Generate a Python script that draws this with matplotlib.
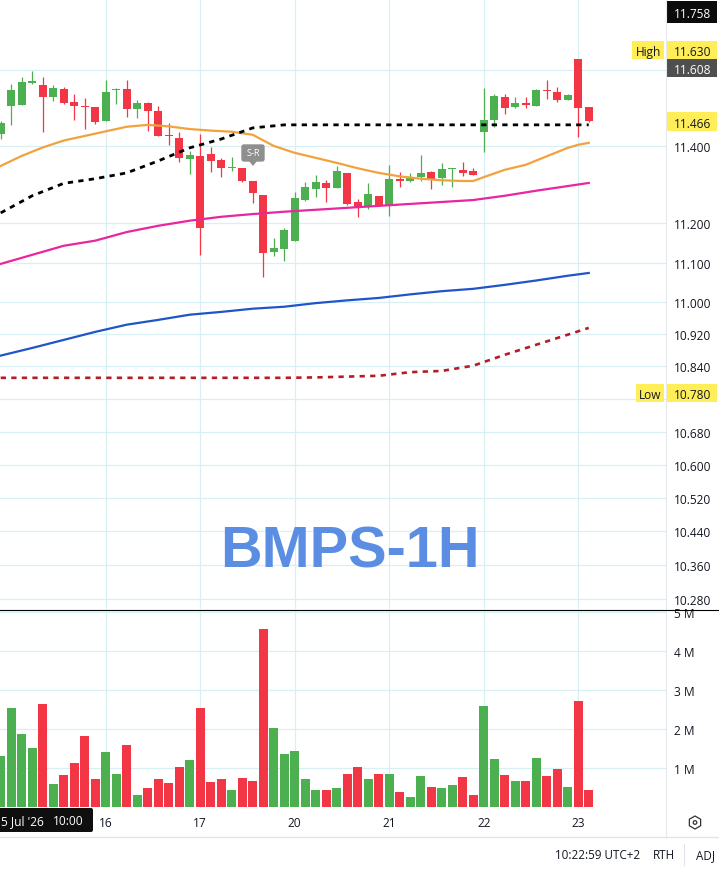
import numpy as np
from matplotlib import pyplot as plt
from matplotlib.patches import Rectangle, FancyBboxPatch, RegularPolygon, Circle, Polygon

plt.rcParams['font.family'] = ['Open Sans', 'DejaVu Sans']

# hourly bars, 9 a day
opens = [11.431, 11.505, 11.508, 11.565, 11.561, 11.528, 11.549, 11.514, 11.505, 11.502,
         11.465, 11.546, 11.549, 11.496, 11.512, 11.492, 11.429, 11.420, 11.366, 11.375,
         11.378, 11.364, 11.342, 11.343, 11.310, 11.273, 11.126, 11.135, 11.154, 11.261,
         11.289, 11.303, 11.291, 11.331, 11.254, 11.243, 11.271, 11.246, 11.315, 11.310,
         11.319, 11.332, 11.317, 11.340, 11.338, 11.335, 11.437, 11.469, 11.528, 11.502,
         11.511, 11.505, 11.546, 11.542, 11.521, 11.629, 11.502]
highs = [11.466, 11.562, 11.582, 11.597, 11.580, 11.560, 11.554, 11.535, 11.525, 11.502,
         11.572, 11.551, 11.572, 11.521, 11.514, 11.504, 11.459, 11.436, 11.388, 11.431,
         11.397, 11.368, 11.371, 11.343, 11.310, 11.273, 11.162, 11.188, 11.280, 11.306,
         11.325, 11.312, 11.349, 11.331, 11.262, 11.303, 11.271, 11.351, 11.332, 11.329,
         11.377, 11.336, 11.355, 11.343, 11.359, 11.342, 11.552, 11.536, 11.536, 11.527,
         11.527, 11.549, 11.573, 11.554, 11.535, 11.629, 11.502]
lows = [11.418, 11.455, 11.508, 11.563, 11.436, 11.518, 11.510, 11.468, 11.444, 11.458,
        11.465, 11.510, 11.476, 11.472, 11.440, 11.425, 11.403, 11.359, 11.327, 11.120,
        11.332, 11.320, 11.334, 11.306, 11.253, 11.065, 11.117, 11.104, 11.154, 11.258,
        11.267, 11.255, 11.291, 11.248, 11.216, 11.237, 11.247, 11.218, 11.294, 11.306,
        11.310, 11.288, 11.299, 11.294, 11.323, 11.325, 11.385, 11.450, 11.484, 11.498,
        11.498, 11.505, 11.523, 11.516, 11.519, 11.423, 11.463]
closes = [11.460, 11.547, 11.568, 11.569, 11.528, 11.552, 11.511, 11.505, 11.503, 11.463,
          11.541, 11.549, 11.496, 11.512, 11.491, 11.425, 11.426, 11.369, 11.377, 11.188,
          11.361, 11.343, 11.345, 11.310, 11.278, 11.124, 11.137, 11.183, 11.264, 11.294,
          11.306, 11.291, 11.336, 11.250, 11.240, 11.276, 11.247, 11.315, 11.308, 11.320,
          11.329, 11.313, 11.340, 11.343, 11.330, 11.325, 11.469, 11.531, 11.500, 11.512,
          11.507, 11.547, 11.543, 11.521, 11.534, 11.498, 11.466]
# volume in millions
volume = [1.32, 2.54, 1.89, 1.52, 2.65, 0.60, 0.83, 1.15, 1.82, 0.72,
          1.43, 0.87, 1.59, 0.32, 0.49, 0.72, 0.62, 1.04, 1.22, 2.54,
          0.65, 0.72, 0.44, 0.76, 0.67, 4.57, 2.03, 1.38, 1.45, 0.72,
          0.44, 0.44, 0.51, 0.85, 1.04, 0.72, 0.85, 0.85, 0.39, 0.26,
          0.81, 0.53, 0.51, 0.58, 0.79, 0.32, 2.61, 1.25, 0.83, 0.69,
          0.69, 1.27, 0.81, 0.99, 0.53, 2.74, 0.46]

orange_idx = [0, 2, 4, 6, 8, 10, 12, 14, 16, 18, 20, 22, 24, 26, 28, 30, 32, 34, 36, 38,
              40, 42, 44, 45, 46, 48, 50, 52, 54, 55, 56]
ma_orange = [11.348, 11.374, 11.396, 11.414, 11.426, 11.438, 11.450, 11.455, 11.451, 11.444,
             11.440, 11.437, 11.429, 11.400, 11.382, 11.369, 11.356, 11.342, 11.330, 11.321,
             11.315, 11.311, 11.309, 11.309, 11.319, 11.338, 11.351, 11.373, 11.395, 11.403, 11.408]
line_idx = [0, 3, 6, 9, 12, 15, 18, 21, 24, 27, 30, 33, 36, 39, 42, 45, 48, 51, 54, 56]
ma_magenta = [11.097, 11.120, 11.143, 11.156, 11.178, 11.194, 11.207, 11.217, 11.224, 11.230,
              11.235, 11.240, 11.245, 11.250, 11.255, 11.260, 11.271, 11.284, 11.296, 11.304]
ma_blue = [10.867, 10.886, 10.906, 10.926, 10.944, 10.956, 10.969, 10.976, 10.984, 10.989,
           10.998, 11.005, 11.011, 11.020, 11.028, 11.034, 11.044, 11.055, 11.067, 11.074]
ma_black = [11.227, 11.271, 11.303, 11.315, 11.330, 11.361, 11.395, 11.418, 11.447, 11.455,
            11.455, 11.455, 11.455, 11.455, 11.455, 11.455, 11.455, 11.455, 11.455, 11.455]
ma_red = [10.812, 10.812, 10.812, 10.812, 10.812, 10.812, 10.812, 10.812, 10.812, 10.812,
          10.813, 10.815, 10.817, 10.826, 10.829, 10.842, 10.869, 10.894, 10.919, 10.936]

price_ticks = [11.6, 11.4, 11.2, 11.1, 11.0, 10.92, 10.84, 10.76, 10.68, 10.6, 10.52, 10.44, 10.36, 10.28]
price_labels = ['', '11.400', '11.200', '11.100', '11.000', '10.920', '10.840', '', '10.680',
                '10.600', '10.520', '10.440', '10.360', '10.280']
vol_ticks = [1, 2, 3, 4, 5]
vol_labels = ['1 M', '2 M', '3 M', '4 M', '5 M']
day_idx = [10, 19, 28, 37, 46, 55]
day_labels = ['16', '17', '20', '21', '22', '23']

GREEN = '#4caf50'
RED = '#f23645'
GRID = '#d8f0f3'
TXT = '#131722'
W, H = 719, 870

fig = plt.figure(figsize=(W / 100, H / 100), dpi=100)
ax = fig.add_axes([0, 1 - 610 / H, 665.5 / W, 610 / H])
vax = fig.add_axes([0, 1 - 809 / H, 665.5 / W, 198 / H])

idx = np.arange(len(opens))
o, h, l, c = map(np.array, (opens, highs, lows, closes))
colors = [GREEN if up else RED for up in c >= o]

ax.vlines(idx, l, h, colors=colors, lw=0.9, zorder=3)
ax.bar(idx, np.maximum(np.abs(c - o), 0.001), bottom=np.minimum(o, c), width=0.76, color=colors, zorder=4)
ax.plot(orange_idx, ma_orange, color='#f2a23c', lw=1.6, zorder=5)
ax.plot(line_idx, ma_magenta, color='#e925a0', lw=1.6, zorder=5)
ax.plot(line_idx, ma_blue, color='#1f55c9', lw=1.6, zorder=5)
ax.plot(line_idx, ma_black, color='black', lw=2.0, ls=(0, (1.9, 1.9)), zorder=5)
ax.plot(line_idx, ma_red, color='#b71c24', lw=1.9, ls=(0, (2, 2)), zorder=5)

ax.set_yscale('log')
ax.set_ylim(10.256, 11.789)
ax.set_xlim(-0.067, 63.31)
ax.yaxis.set_minor_locator(plt.NullLocator())
ax.yaxis.set_minor_formatter(plt.NullFormatter())
ax.yaxis.tick_right()
ax.set_yticks(price_ticks)
ax.set_yticklabels(price_labels)
ax.set_xticks(day_idx)
ax.set_xticklabels([])

vax.bar(idx, volume, width=0.86, color=colors, zorder=3)
vax.set_xlim(-0.067, 63.31)
vax.set_ylim(-0.013, 5.06)
vax.yaxis.tick_right()
vax.set_yticks(vol_ticks)
vax.set_yticklabels(vol_labels)
vax.set_xticks(day_idx)
vax.set_xticklabels(day_labels)

for a in (ax, vax):
    a.grid(True, color=GRID, lw=0.9, zorder=0)
    a.set_axisbelow(True)
    a.tick_params(length=0, labelsize=8.6, labelcolor=TXT, pad=6)
    for s in a.spines.values():
        s.set_visible(False)
vax.tick_params(axis='x', pad=6)

# screen furniture in pixel coordinates
ov = fig.add_axes([0, 0, 1, 1], zorder=10)
ov.set_xlim(0, W)
ov.set_ylim(H, 0)
ov.axis('off')
ov.patch.set_alpha(0)


def tag(x0, x1, y0, y1, fill, text, color, tx=None, ha='right', size=8.6):
    ov.add_patch(Rectangle((x0, y0), x1 - x0, y1 - y0, color=fill, lw=0))
    ov.text(711 if tx is None else tx, (y0 + y1) / 2, text, color=color, ha=ha, va='center_baseline', fontsize=size)


ov.plot([665.5, 665.5], [0, 838], color='#e6e9ee', lw=0.8)
ov.plot([0, W], [610.5, 610.5], color='black', lw=0.8)
ov.plot([0, W], [838, 838], color='#e0e3eb', lw=1)
ov.plot([684, 684], [845, 866], color='#e0e3eb', lw=0.8)

tag(666, 717, 2, 24, '#0b0b0b', '11.758', 'white')
tag(632, 664, 42, 60, '#ffee58', 'High', TXT, tx=661)
tag(666, 717, 42, 60, '#ffee58', '11.630', TXT)
tag(666, 717, 60, 78, '#4f4f4f', '11.608', 'white')
tag(666, 717, 113, 132, '#ffee58', '11.466', TXT)
tag(636, 664, 385, 403, '#ffee58', 'Low', TXT, tx=661)
tag(666, 717, 385, 403, '#ffee58', '10.780', TXT)

# S-R marker
ov.add_patch(FancyBboxPatch((242, 146), 22, 16, boxstyle='round,pad=0,rounding_size=2', color='#8f8f8f', lw=1))
ov.add_patch(Polygon([[249, 162], [257, 162], [253, 167]], color='#8f8f8f', lw=0))
ov.text(253, 153.5, 'S-R', color='white', ha='center', va='center', fontsize=6.6)

ov.text(350, 553, 'BMPS-1H', color='#5b8ee2', family='Liberation Sans', weight='bold',
        fontsize=41.5, ha='center', va='center')

# crosshair date box
ov.add_patch(FancyBboxPatch((-5, 809), 98, 24, boxstyle='round,pad=0,rounding_size=2', color='#0f0f0f', lw=0))
ov.text(1, 821.5, "5 Jul '26", color='white', ha='left', va='center', fontsize=8.6)
ov.text(68, 821.5, '10:00', color='white', ha='center', va='center', fontsize=8.6)

# settings icon
ov.add_patch(RegularPolygon((695, 823.5), 6, radius=6.5, fill=False, ec='#333333', lw=0.9))
ov.add_patch(Circle((695, 823.5), 1.8, fill=False, ec='#333333', lw=0.9))

ov.text(598, 856, '10:22:59 UTC+2', color=TXT, ha='center', va='center', fontsize=8.4)
ov.text(664, 856, 'RTH', color=TXT, ha='center', va='center', fontsize=8.4)
ov.text(705, 856, 'ADJ', color=TXT, ha='center', va='center', fontsize=8.4)

fig.savefig('out.png', dpi=100)
